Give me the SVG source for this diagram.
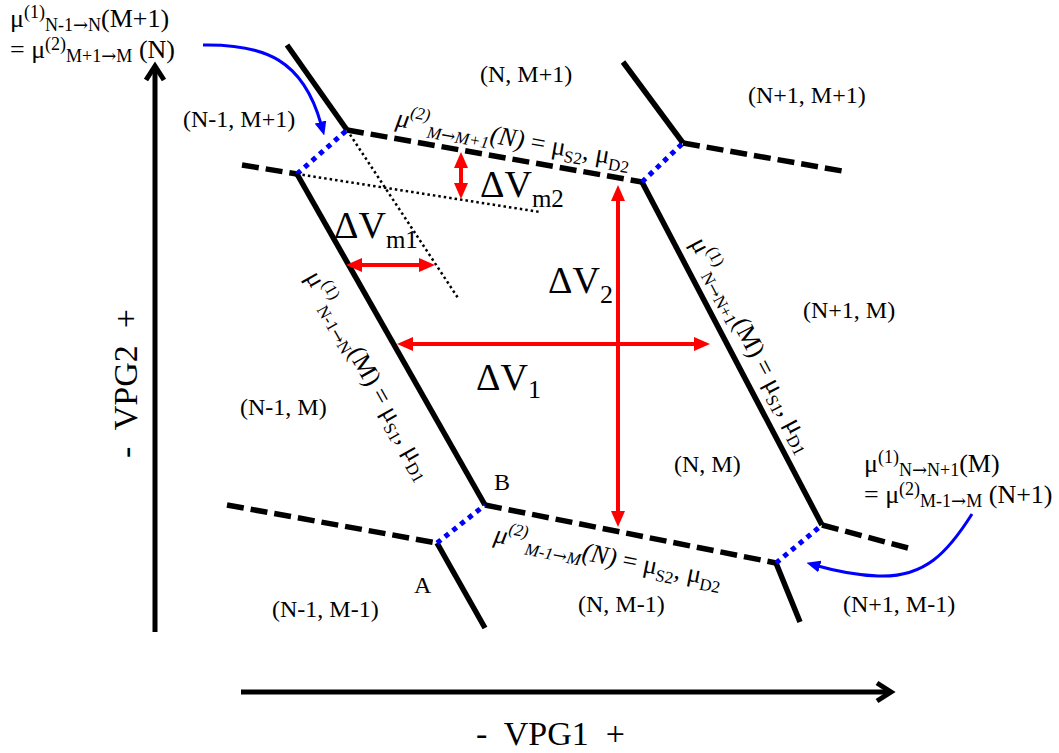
<svg xmlns="http://www.w3.org/2000/svg" width="1059" height="753" viewBox="0 0 1059 753">
<style>
text{font-family:"Liberation Serif","Times New Roman",serif;fill:#000}
.reg{font-size:24px}
.note{font-size:26px}
.lbl{font-size:26px}
.big{font-size:38px}
.ar{font-family:"DejaVu Serif",serif}
.solid{stroke:#000;stroke-width:5.5;fill:none}
.dash{stroke:#000;stroke-width:5.5;stroke-dasharray:17 7;fill:none}
.blued{stroke:#0000ff;stroke-width:5;stroke-dasharray:5 5;fill:none}
.thin{stroke:#000;stroke-width:2.5;stroke-dasharray:2.5 3;fill:none}
.red{stroke:#ff0000;stroke-width:4;fill:none;marker-start:url(#ra);marker-end:url(#ra)}
.blue{stroke:#0000ff;stroke-width:3;fill:none;marker-end:url(#ba)}
.axis{stroke:#000;stroke-width:5;fill:none}
</style>
<defs>
<marker id="ra" markerUnits="userSpaceOnUse" markerWidth="16" markerHeight="14" refX="8" refY="7" orient="auto-start-reverse"><path d="M0,0 L16,7 L0,14 z" fill="#ff0000"/></marker>
<marker id="ba" markerUnits="userSpaceOnUse" markerWidth="14" markerHeight="12" refX="2" refY="6" orient="auto"><path d="M0,0 L14,6 L0,12 z" fill="#0000ff"/></marker>
</defs>
<rect width="1059" height="753" fill="#fff"/>

<g id="axes">
<line class="axis" x1="155" y1="632" x2="155" y2="68"/>
<polyline class="axis" points="146,80 155,66 164,80"/>
<line class="axis" x1="241" y1="692" x2="889" y2="692"/>
<polyline class="axis" points="877,683 891,692 877,701"/>
<text id="vpg1" x="476" y="745" font-size="34" xml:space="preserve">-  VPG1  +</text>
<text id="vpg2" transform="translate(137,458) rotate(-90)" font-size="34" xml:space="preserve">-  VPG2  +</text>
</g>

<g id="connectors">
<path class="solid" d="M287,45 L347,130"/>
<path class="solid" d="M623,62 L683,143"/>
<path class="solid" d="M297,174 L485,505"/>
<path class="solid" d="M642,182 L822,525"/>
<path class="solid" d="M437,543 L485,628"/>
<path class="solid" d="M776,563 L800,622"/>
<path class="dash" d="M347,130 L642,182"/>
<path class="dash" d="M683,143 L848,172"/>
<path class="dash" d="M242,165 L297,174"/>
<path class="dash" d="M485,505 L776,563"/>
<path class="dash" d="M227,505 L437,543"/>
<path class="dash" d="M822,525 L908,548"/>
<path class="blued" d="M297,174 L347,130"/>
<path class="blued" d="M642,182 L683,143"/>
<path class="blued" d="M437,543 L485,505"/>
<path class="blued" d="M776,563 L822,525"/>
<path class="thin" d="M297,174 L540,212"/>
<path class="thin" d="M347,130 L458,298"/>
<line class="red" x1="461" y1="160" x2="461" y2="191"/>
<line class="red" x1="354" y1="265" x2="427" y2="265"/>
<line class="red" x1="405" y1="344" x2="702" y2="344"/>
<line class="red" x1="618" y1="193" x2="618" y2="519"/>
<path class="blue" d="M203,45 C265,44 303,60 321,124"/>
<path class="blue" d="M972,514 C948,552 925,578 878,576 C852,575 832,570 818,566"/>
</g>

<g id="regions">
<text id="r-n-m1" class="reg" x="480" y="82">(N, M+1)</text>
<text id="r-n1-m1" class="reg" x="748" y="103">(N+1, M+1)</text>
<text id="r-nm1-mp1" class="reg" x="183" y="127" font-size="26">(N-1, M+1)</text>
<text id="r-n1-m" class="reg" x="803" y="318">(N+1, M)</text>
<text id="r-nm1-m" class="reg" x="240" y="415">(N-1, M)</text>
<text id="r-n-m" class="reg" x="674" y="472">(N, M)</text>
<text id="r-nm1-mm1" class="reg" x="272" y="617">(N-1, M-1)</text>
<text id="r-n-mm1" class="reg" x="578" y="612">(N, M-1)</text>
<text id="r-np1-mm1" class="reg" x="843" y="612">(N+1, M-1)</text>
<text id="pA" class="reg" x="414" y="593">A</text>
<text id="pB" class="reg" x="494" y="490">B</text>
</g>

<g id="deltas">
<text id="dvm2" class="big" x="480" y="197">ΔV<tspan font-size="25" dy="10">m2</tspan></text>
<text id="dvm1" class="big" x="334" y="238">ΔV<tspan font-size="25" dy="10">m1</tspan></text>
<text id="dv2" class="big" x="548" y="293">ΔV<tspan font-size="26" dy="10">2</tspan></text>
<text id="dv1" class="big" x="476" y="390">ΔV<tspan font-size="26" dy="8">1</tspan></text>
</g>

<g id="line-labels">
<text id="lbl-top" class="lbl" transform="translate(395,126) rotate(10)"><tspan font-style="italic">μ</tspan><tspan font-style="italic" font-size="17" dy="-11">(2)</tspan><tspan font-style="italic" font-size="17" dy="17">M<tspan class="ar">→</tspan>M+1</tspan><tspan font-style="italic" dy="-6">(N)</tspan> = μ<tspan font-size="17" dy="6">S2</tspan><tspan dy="-6">, μ</tspan><tspan font-size="17" dy="6">D2</tspan></text>
<text id="lbl-bot" class="lbl" transform="translate(493,542) rotate(11.3)"><tspan font-style="italic">μ</tspan><tspan font-style="italic" font-size="17" dy="-11">(2)</tspan><tspan font-style="italic" font-size="17" dy="17">M-1<tspan class="ar">→</tspan>M</tspan><tspan font-style="italic" dy="-6">(N)</tspan> = μ<tspan font-size="17" dy="6">S2</tspan><tspan dy="-6">, μ</tspan><tspan font-size="17" dy="6">D2</tspan></text>
<text id="lbl-left" class="lbl" transform="translate(305,277) rotate(60.6)">μ<tspan font-size="17" dy="-11">(1)</tspan><tspan font-size="17" dy="17">N-1<tspan class="ar">→</tspan>N</tspan><tspan dy="-6">(M) = μ</tspan><tspan font-size="17" dy="6">S1</tspan><tspan dy="-6">, μ</tspan><tspan font-size="17" dy="6">D1</tspan></text>
<text id="lbl-right" class="lbl" transform="translate(690,243) rotate(62.3)">μ<tspan font-size="17" dy="-11">(1)</tspan><tspan font-size="17" dy="17">N<tspan class="ar">→</tspan>N+1</tspan><tspan dy="-6">(M) = μ</tspan><tspan font-size="17" dy="6">S1</tspan><tspan dy="-6">, μ</tspan><tspan font-size="17" dy="6">D1</tspan></text>
</g>

<g id="note-top">
<text class="note" x="10" y="27">μ<tspan font-size="18" dy="-9">(1)</tspan><tspan font-size="18" dy="13">N-1<tspan class="ar">→</tspan>N</tspan><tspan dy="-4">(M+1)</tspan></text>
<text class="note" x="10" y="58">= μ<tspan font-size="18" dy="-8">(2)</tspan><tspan font-size="18" dy="12">M+1<tspan class="ar">→</tspan>M</tspan><tspan dy="-4"> (N)</tspan></text>
</g>
<g id="note-bottom">
<text class="note" x="864" y="472">μ<tspan font-size="18" dy="-9">(1)</tspan><tspan font-size="18" dy="13">N<tspan class="ar">→</tspan>N+1</tspan><tspan dy="-4">(M)</tspan></text>
<text class="note" x="864" y="503">= μ<tspan font-size="18" dy="-8">(2)</tspan><tspan font-size="18" dy="12">M-1<tspan class="ar">→</tspan>M</tspan><tspan dy="-4"> (N+1)</tspan></text>
</g>
</svg>
